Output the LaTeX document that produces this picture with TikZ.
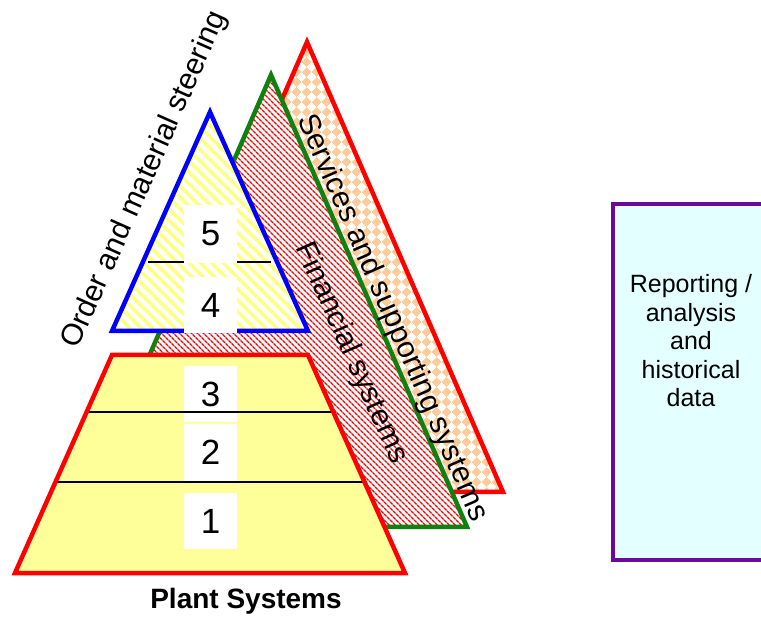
\documentclass[tikz,border=0pt]{standalone}
\usepackage{fontspec}
\setmainfont{Liberation Sans}
\usetikzlibrary{calc,patterns,patterns.meta}

\definecolor{chk}{HTML}{FFCC99}
\definecolor{ylw}{HTML}{FFFF99}
\definecolor{hatchyl}{HTML}{FFFF80}
\definecolor{grn}{HTML}{108010}
\definecolor{prp}{HTML}{6A0A9A}
\definecolor{cyanbg}{HTML}{E3FFFF}

% diagonal checkerboard: small diamonds
\tikzdeclarepattern{
  name=diamondcheck,
  type=uncolored,
  bottom left={(0pt,0pt)},
  top right={(14pt,14pt)},
  tile size={(14pt,14pt)},
  tile transformation={rotate=45},
  code={
    \fill (0pt,0pt) rectangle (7pt,7pt);
    \fill (7pt,7pt) rectangle (14pt,14pt);
  }
}

\tikzset{
  layer/.style={line width=4.5pt, line join=miter, preaction={fill=white}},
  numbox/.style={fill=white, minimum width=53pt, inner sep=0pt,
    font=\fontsize{35}{38}\selectfont},
  sep/.style={black, line width=1.2pt},
  slanted/.style={font=\fontsize{30}{33}\selectfont, inner sep=0pt},
}

\begin{document}
\begin{tikzpicture}[x=1pt,y=-1pt]
\useasboundingbox (0,0) rectangle (761,617);
\clip (0,0) rectangle (761,617);

% ---- services and supporting systems (back layer)
\coordinate (sa) at (307,42);
\coordinate (sl) at (111,492);
\coordinate (sr) at (503,492);
\draw[layer, red, pattern=diamondcheck, pattern color=chk] (sa) -- (sr) -- (sl) -- cycle;

% ---- financial systems
\coordinate (fa) at (271,75);
\coordinate (fl) at (75,527);
\coordinate (fr) at (467,527);
\draw[layer, grn, pattern={Lines[angle=-45,distance=4pt,line width=1.4pt]}, pattern color=red]
  (fa) -- (fr) -- (fl) -- cycle;

% ---- order and material steering
\coordinate (oa) at (210,112);
\coordinate (ol) at (112,331);
\coordinate (or) at (308,331);
\draw[layer, blue, pattern={Lines[angle=-45,distance=8pt,line width=3.5pt]}, pattern color=hatchyl]
  (oa) -- (or) -- (ol) -- cycle;
\coordinate (m5a) at (148,262);
\coordinate (m5b) at (271,262);
\draw[sep] (m5a) -- (m5b);
\node[numbox, minimum height=58pt] (n5) at (210.5,234) {5};
\node[numbox, minimum height=56pt] (n4) at (210.5,305) {4};

% ---- plant systems
\coordinate (ptl) at (112,355);
\coordinate (ptr) at (308,355);
\coordinate (pbr) at (405,573);
\coordinate (pbl) at (15,573);
\fill[ylw] (ptl) -- (ptr) -- (pbr) -- (pbl) -- cycle;
\node[numbox, minimum height=56pt] (n3) at (210.5,394) {3};
\node[numbox, minimum height=57pt] (n2) at (210.5,452.5) {2};
\node[numbox, minimum height=56pt] (n1) at (210.5,521) {1};
\draw[sep] ($(ptl)!0.2615!(pbl)$) -- ($(ptr)!0.2615!(pbr)$);
\draw[sep] ($(ptl)!0.5826!(pbl)$) -- ($(ptr)!0.5826!(pbr)$);
\draw[red, line width=4.5pt, line join=miter] (ptl) -- (ptr) -- (pbr) -- (pbl) -- cycle;

% ---- labels
\node[slanted, rotate=66] (lord) at (145,180) {Order and material steering};
\node[slanted, rotate=-66.5] (lsrv) at (392,318) {Services and supporting systems};
\node[slanted, rotate=-66] (lfin) at (351,353) {Financial systems};
\node[font=\bfseries\fontsize{28}{32}\selectfont] (lplant) at (246,601) {Plant Systems};

% ---- reporting box
\draw[prp, line width=4pt, fill=cyanbg] (613,204) rectangle (765,560);
\node[align=center, font=\fontsize{25}{28.5}\selectfont] (rep) at (691,341)
  {Reporting /\\analysis\\and\\historical\\data};
\end{tikzpicture}
\end{document}
